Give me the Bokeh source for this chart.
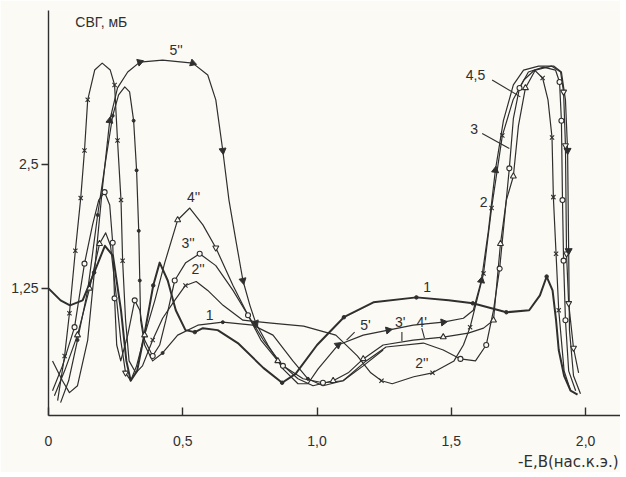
import numpy as np
from bokeh.plotting import figure
from bokeh.models import FixedTicker, Title
from bokeh.core.properties import value
from bokeh.embed import file_html
from bokeh.resources import INLINE

# ---- data ----
# curve 1
x1 = [0.0, 0.045, 0.08, 0.127, 0.17, 0.21, 0.24, 0.27, 0.29, 0.306, 0.33, 0.36, 0.39, 0.414, 0.444,
      0.474, 0.51, 0.545, 0.575, 0.63, 0.705, 0.80, 0.87, 0.92, 1.0, 1.10, 1.21, 1.37, 1.49, 1.58,
      1.705, 1.79, 1.83, 1.855, 1.877, 1.89, 1.90, 1.92, 1.944, 1.97]
y1 = [1.25, 1.13, 1.08, 1.13, 1.41, 1.68, 1.58, 1.03, 0.52, 0.32, 0.42, 0.83, 1.28, 1.51, 1.33,
      1.03, 0.83, 0.81, 0.85, 0.83, 0.70, 0.45, 0.30, 0.39, 0.68, 0.96, 1.11, 1.16, 1.13, 1.10,
      1.01, 1.03, 1.18, 1.37, 1.23, 0.93, 0.63, 0.37, 0.22, 0.18]
mk1 = [4, 12, 17, 22, 25, 27, 29, 30, 33]

# curve 2 (x markers): 2, 2'', 2'
x2 = [0.034, 0.06, 0.078, 0.10, 0.12, 0.134, 0.146, 0.172, 0.20, 0.23, 0.246, 0.257, 0.27, 0.276,
      0.287, 0.30, 0.325, 0.35, 0.388, 0.425, 0.47, 0.51, 0.55, 0.593, 0.65, 0.724, 0.83, 0.95,
      1.07, 1.15, 1.20, 1.24, 1.28, 1.36, 1.43, 1.51, 1.545, 1.57, 1.62, 1.65, 1.69, 1.73, 1.77,
      1.81, 1.84, 1.86, 1.875, 1.88, 1.89, 1.90, 1.92, 1.944]
y2 = [0.12, 0.57, 1.0, 1.63, 2.16, 2.64, 3.15, 3.45, 3.52, 3.45, 3.30, 2.74, 2.14, 1.53,
      0.93, 0.52, 0.40, 0.47, 0.73, 0.95, 1.13, 1.28, 1.32, 1.23, 1.08, 0.93, 0.90, 0.87,
      0.78, 0.57, 0.40, 0.32, 0.29, 0.36, 0.40, 0.52, 0.68, 0.86, 1.40, 2.06, 2.79, 3.15, 3.35,
      3.45, 3.37, 3.15, 2.77, 2.17, 1.60, 1.03, 0.42, 0.22]
mk2 = [1, 2, 3, 4, 5, 6, 10, 11, 12, 13, 18, 21, 31, 34, 37, 38, 39, 40, 44, 46, 47, 48, 49]

# curve 3 (o markers): 3, 3'', 3'
x3 = [0.015, 0.052, 0.097, 0.134, 0.164, 0.187, 0.209, 0.228, 0.239, 0.246, 0.254, 0.269, 0.295,
      0.321, 0.34, 0.358, 0.388, 0.414, 0.437, 0.47, 0.511, 0.563, 0.623, 0.687, 0.743, 0.80,
      0.873, 0.948, 1.022, 1.097, 1.183, 1.257, 1.396, 1.47, 1.534, 1.59, 1.63, 1.657, 1.68,
      1.70, 1.716, 1.731, 1.754, 1.787, 1.843, 1.888, 1.903, 1.91, 1.914, 1.918, 1.925, 1.937, 1.963]
y3 = [0.22, 0.47, 0.86, 1.50, 1.89, 2.14, 2.22, 2.09, 1.71, 1.15, 0.68, 0.52, 0.78,
      1.13, 1.03, 0.73, 0.57, 0.68, 0.93, 1.33, 1.51, 1.60, 1.48, 1.23, 0.98, 0.73,
      0.47, 0.34, 0.30, 0.32, 0.52, 0.66, 0.70, 0.63, 0.54, 0.52, 0.68, 1.03, 1.45,
      2.01, 2.46, 2.96, 3.27, 3.43, 3.48, 3.45, 3.33, 2.94, 2.14, 1.53, 0.93, 0.42, 0.22]
mk3 = [2, 3, 6, 8, 9, 13, 16, 19, 21, 24, 26, 28, 34, 36, 38, 40, 42, 46, 47, 48, 49, 50]

# curve 4 (triangles): 4, 4'', 4'
x4 = [0.022, 0.06, 0.108, 0.153, 0.19, 0.213, 0.231, 0.25, 0.269, 0.287, 0.306, 0.328, 0.358,
      0.396, 0.433, 0.481, 0.526, 0.575, 0.623, 0.687, 0.743, 0.791, 0.854, 0.929, 0.985, 1.06,
      1.116, 1.172, 1.246, 1.358, 1.47, 1.563, 1.62, 1.657, 1.683, 1.705, 1.731, 1.75, 1.776,
      1.813, 1.873, 1.907, 1.918, 1.925, 1.929, 1.937, 1.955, 1.974]
y4 = [0.17, 0.42, 0.78, 1.25, 1.70, 1.81, 1.68, 1.23, 0.73, 0.40, 0.32, 0.47, 0.78,
      1.13, 1.51, 1.94, 2.06, 1.89, 1.66, 1.28, 0.98, 0.73, 0.52, 0.34, 0.27, 0.32,
      0.40, 0.54, 0.68, 0.73, 0.76, 0.80, 0.85, 0.93, 1.70, 2.14, 2.38, 2.89, 3.27,
      3.45, 3.49, 3.43, 3.23, 2.69, 1.60, 1.10, 0.65, 0.40]
mk4_up = [2, 3, 4, 12, 15, 22, 25, 27, 30, 33, 34, 36, 38]
mk4_dn = [9, 18, 42, 43, 44, 45, 46]

# curve 5 (dots, tall narrow peak)
x5 = [0.045, 0.075, 0.108, 0.146, 0.183, 0.213, 0.239, 0.261, 0.284, 0.302, 0.317, 0.328, 0.336,
      0.34, 0.343, 0.358, 0.388, 0.425, 0.481, 0.556, 0.649, 0.761, 0.836, 0.91, 0.966, 1.022,
      1.097, 1.172, 1.246]
y5 = [0.10, 0.32, 0.73, 1.23, 1.99, 2.54, 2.99, 3.20, 3.28, 3.23, 2.94, 2.44, 1.83,
      1.33, 0.93, 0.68, 0.52, 0.60, 0.78, 0.88, 0.91, 0.88, 0.78, 0.52, 0.34, 0.27,
      0.32, 0.47, 0.63]
mk5 = [2, 4, 6, 10, 11, 12, 13, 17, 20, 24]

# curve 5'' / 5' (arrows)
x5a = [0.015, 0.052, 0.078, 0.108, 0.146, 0.175, 0.20, 0.228, 0.257, 0.295, 0.34, 0.425, 0.537,
       0.593, 0.623, 0.649, 0.672, 0.698, 0.724, 0.75, 0.772, 0.817, 0.873, 0.929, 0.966, 1.004,
       1.078, 1.172, 1.265, 1.358, 1.47, 1.545, 1.582, 1.612, 1.638, 1.664, 1.694, 1.731, 1.769,
       1.825, 1.881, 1.91, 1.925, 1.933, 1.937, 1.94, 1.955, 1.981]
y5a = [0.52, 0.32, 0.20, 0.27, 0.73, 1.53, 2.24, 2.94, 3.27, 3.43, 3.53, 3.55, 3.52,
       3.40, 3.15, 2.64, 2.14, 1.73, 1.33, 1.08, 0.90, 0.68, 0.44, 0.29, 0.29, 0.44,
       0.68, 0.78, 0.83, 0.88, 0.91, 0.95, 1.03, 1.33, 1.83, 2.44, 2.94, 3.30, 3.45,
       3.49, 3.49, 3.43, 3.15, 2.64, 1.63, 0.83, 0.37, 0.19]
arr5a = [7, 10, 12, 15, 18, 20, 26, 28, 30, 33, 35, 43, 44]

x_ticks = [0, 0.5, 1.0, 1.5, 2.0]
x_labels = ["0", "0,5", "1,0", "1,5", "2,0"]
y_ticks = [1.25, 2.5]
y_labels = ["1,25", "2,5"]
x_title = "-E,B(нас.к.э.)"
y_title = "СВГ, мБ"

curve_labels = ["5''", "4''", "3''", "2''", "1", "1", "5'", "3'", "4'", "2''", "4,5", "3", "2"]
curve_lx = [0.475, 0.54, 0.52, 0.557, 0.60, 1.41, 1.18, 1.31, 1.39, 1.39, 1.59, 1.585, 1.62]
curve_ly = [3.65, 2.17, 1.71, 1.45, 0.98, 1.26, 0.88, 0.91, 0.91, 0.50, 3.40, 2.86, 2.12]

lead_x0 = [1.652, 1.615, 1.14, 1.316, 1.39]
lead_y0 = [3.35, 2.81, 0.81, 0.81, 0.85]
lead_x1 = [1.757, 1.716, 1.11, 1.316, 1.40]
lead_y1 = [3.18, 2.66, 0.73, 0.72, 0.75]

# ---- figure ----
PAPER = "#fbfaf5"
INK = "#2f2f2f"
FONT = "Liberation Sans"

p = figure(width=620, height=472, output_backend="svg", toolbar_location=None,
           x_range=(0, 2.13), y_range=(-0.03, 4.05),
           min_border_left=48, min_border_right=0, min_border_top=10, min_border_bottom=0)
p.background_fill_color = PAPER
p.border_fill_color = PAPER
p.outline_line_color = None
p.grid.grid_line_color = None

p.xaxis.ticker = FixedTicker(ticks=x_ticks)
p.xaxis.major_label_overrides = {t: l for t, l in zip(x_ticks, x_labels)}
p.xaxis.major_tick_in = 8
p.xaxis.major_tick_out = 0
p.xaxis.major_label_standoff = 20
p.yaxis.ticker = FixedTicker(ticks=y_ticks)
p.yaxis.major_label_overrides = {t: l for t, l in zip(y_ticks, y_labels)}
p.yaxis.major_tick_in = 0
p.yaxis.major_tick_out = 7
p.yaxis.major_label_standoff = 3
for ax in (p.xaxis, p.yaxis):
    ax.axis_line_color = INK
    ax.axis_line_width = 1.4
    ax.major_tick_line_color = INK
    ax.major_tick_line_width = 1.4
    ax.minor_tick_line_color = None
    ax.major_label_text_font = FONT
    ax.major_label_text_font_size = "14px"
    ax.major_label_text_color = INK

p.add_layout(Title(text=x_title, align="right", text_font="DejaVu Sans", text_font_size="15px",
                   text_font_style="normal", text_color=INK, standoff=4, offset=2), "below")

lw = 1.2
p.line(x1, y1, line_color=INK, line_width=2.0, line_join="round")
p.line(x2, y2, line_color=INK, line_width=lw, line_join="round")
p.line(x3, y3, line_color=INK, line_width=lw, line_join="round")
p.line(x4, y4, line_color=INK, line_width=lw, line_join="round")
p.line(x5, y5, line_color=INK, line_width=lw, line_join="round")
p.line(x5a, y5a, line_color=INK, line_width=lw, line_join="round")

p.scatter([x1[i] for i in mk1], [y1[i] for i in mk1], marker="circle", size=3.5,
          fill_color=INK, line_color=INK)
p.scatter([x2[i] for i in mk2], [y2[i] for i in mk2], marker="x", size=6,
          line_color=INK, line_width=1.1)
p.scatter([x3[i] for i in mk3], [y3[i] for i in mk3], marker="circle", size=5,
          fill_color=PAPER, line_color=INK, line_width=1.1)
p.scatter([x4[i] for i in mk4_up], [y4[i] for i in mk4_up], marker="triangle", size=6,
          fill_color=PAPER, line_color=INK, line_width=1.1)
p.scatter([x4[i] for i in mk4_dn], [y4[i] for i in mk4_dn], marker="inverted_triangle", size=6,
          fill_color=PAPER, line_color=INK, line_width=1.1)
p.scatter([x5[i] for i in mk5], [y5[i] for i in mk5], marker="circle", size=3,
          fill_color=INK, line_color=INK)

# arrow heads along 5''/5' in direction of travel
sx, sy = 268.5, 99.3
ax_, ay_, ang = [], [], []
for i in arr5a:
    dx = (x5a[i + 1] - x5a[i - 1]) * sx
    dy = (y5a[i + 1] - y5a[i - 1]) * sy
    ax_.append(x5a[i])
    ay_.append(y5a[i])
    ang.append(float(np.arctan2(dy, dx) - np.pi / 2))
p.scatter(ax_, ay_, marker="triangle", size=7, angle=ang, fill_color=INK, line_color=INK)

p.segment(lead_x0, lead_y0, lead_x1, lead_y1, line_color=INK, line_width=1.1)

p.text(curve_lx, curve_ly, text=curve_labels, text_font=value(FONT), text_font_size="14px",
       text_color=INK, text_align="center", text_baseline="middle")

p.text([0.10], [3.93], text=[y_title], text_font=value(FONT), text_font_size="14px",
       text_color=INK, text_align="left", text_baseline="middle")

open("out.html", "w").write(file_html(p, INLINE))
